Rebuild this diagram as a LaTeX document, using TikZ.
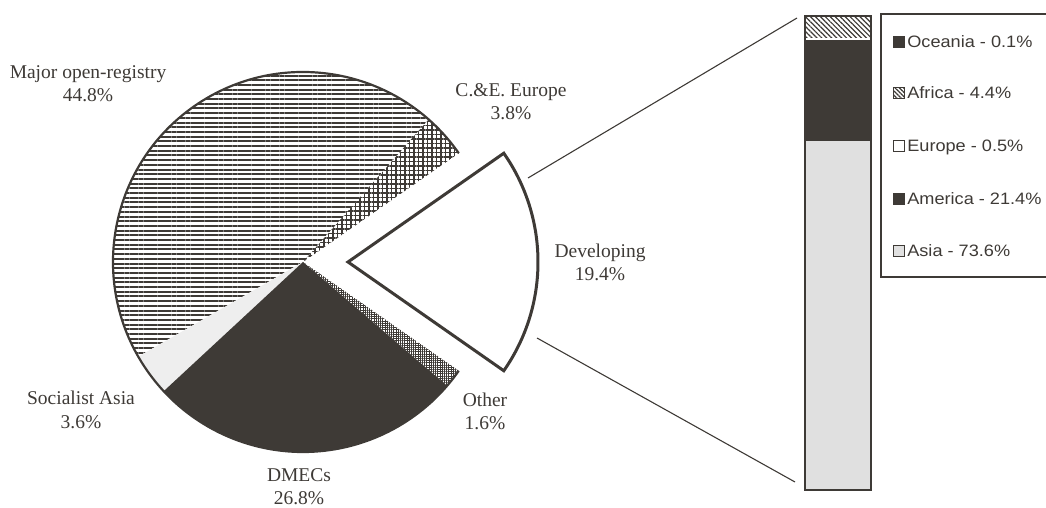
\documentclass[tikz,border=0pt]{standalone}
\usepackage{fontspec}
\setmainfont{Liberation Serif}
\setsansfont{Liberation Sans}[FakeStretch=1.1]
\usetikzlibrary{patterns.meta,positioning}
\definecolor{dunkel}{RGB}{62,58,54}
\definecolor{hell}{RGB}{224,224,224}
\definecolor{sehrhell}{RGB}{238,238,238}

\begin{document}
\begin{tikzpicture}[x=1pt,y=1pt,
        lbl/.style={align=center,inner sep=0pt,font=\fontsize{19.5}{23.5}\selectfont,text=dunkel},
        legmark/.style={draw=dunkel,line width=1.2pt,minimum size=11pt,inner sep=0pt},
        legtext/.style={inner sep=0pt,text height=12pt,text depth=0pt,text=dunkel,font=\sffamily\fontsize{16.5}{20}\selectfont},
        verb/.style={line width=1.1pt,draw=dunkel}]
        \useasboundingbox (0,0) rectangle (1046,508);
        \clip (0,0) rectangle (1046,508);

        % zeichne Kreisdiagramm
        \coordinate (mitte) at (303,246);
        \fill[pattern={Hatch[angle=0,distance=4.5pt,line width=1.2pt]},pattern color=dunkel] (mitte) -- ++(34.92:190pt) arc[start angle=34.92,end angle=48.6,radius=190pt] -- cycle;
        \fill[pattern={Lines[angle=0,distance=4.7pt,line width=2pt]},pattern color=dunkel] (mitte) -- ++(48.6:190pt) arc[start angle=48.6,end angle=209.88,radius=190pt] -- cycle;
        \fill[sehrhell] (mitte) -- ++(209.88:190pt) arc[start angle=209.88,end angle=222.84,radius=190pt] -- cycle;
        \fill[dunkel] (mitte) -- ++(222.84:190pt) arc[start angle=222.84,end angle=319.32,radius=190pt] -- cycle;
        \fill[pattern={Hatch[angle=0,distance=2.2pt,line width=0.8pt]},pattern color=dunkel] (mitte) -- ++(319.32:190pt) arc[start angle=319.32,end angle=325.08,radius=190pt] -- cycle;
        \draw[line width=2.2pt,dunkel] (mitte) ++(34.92:190pt) arc[start angle=34.92,end angle=325.08,radius=190pt];

        % herausgezogenes Segment
        \coordinate (keil) at (348,246);
        \draw[line width=3pt,dunkel,fill=white] (keil) -- ++(-34.92:190pt) arc[start angle=-34.92,end angle=34.92,radius=190pt] -- cycle;

        % zeichne Labels
        \node[lbl] (major) at (88,424.5) {Major open-registry\\44.8\%};
        \node[lbl] (ceeur) at (511,406.5) {C.\&E. Europe\\3.8\%};
        \node[lbl] (devel) at (600,245.5) {Developing\\19.4\%};
        \node[lbl] (sozasia) at (81,98) {Socialist Asia\\3.6\%};
        \node[lbl] (other) at (485,96.5) {Other\\1.6\%};
        \node[lbl] (dmecs) at (299,21.5) {DMECs\\26.8\%};

        % zeichne Saeule
        \fill[hell] (805,18) rectangle (871,366.9);
        \fill[dunkel] (805,366.9) rectangle (871,468.3);
        \fill[white] (805,468.3) rectangle (871,470.7);
        \fill[pattern={Lines[angle=-45,distance=3.5pt,line width=1.2pt]},pattern color=dunkel] (805,470.7) rectangle (871,491.5);
        \fill[dunkel] (805,491.5) rectangle (871,492);
        \draw[line width=2pt,dunkel] (805,18) rectangle (871,492);

        % Verbindungslinien
        \coordinate (keiloben) at (528,330);
        \coordinate (keilunten) at (537,170);
        \coordinate (saeuleoben) at (797,490);
        \coordinate (saeuleunten) at (795,26);
        \draw[verb] (keiloben) -- (saeuleoben);
        \draw[verb] (keilunten) -- (saeuleunten);

        % zeichne Legende
        \draw[line width=1.5pt,dunkel] (881,231) rectangle (1060,494);
        \node[legmark,fill=dunkel] (moce) at (899,466) {};
        \node[legtext,right=2pt of moce] (toce) {Oceania - 0.1\%};
        \node[legmark,pattern={Lines[angle=-45,distance=3pt,line width=1.2pt]},pattern color=dunkel] (mafr) at (899,415) {};
        \node[legtext,right=2pt of mafr] (tafr) {Africa - 4.4\%};
        \node[legmark,fill=white] (meur) at (899,362) {};
        \node[legtext,right=2pt of meur] (teur) {Europe - 0.5\%};
        \node[legmark,fill=dunkel] (mame) at (899,309) {};
        \node[legtext,right=2pt of mame] (tame) {America - 21.4\%};
        \node[legmark,fill=hell] (masi) at (899,257) {};
        \node[legtext,right=2pt of masi] (tasi) {Asia - 73.6\%};
    \end{tikzpicture}
\end{document}
